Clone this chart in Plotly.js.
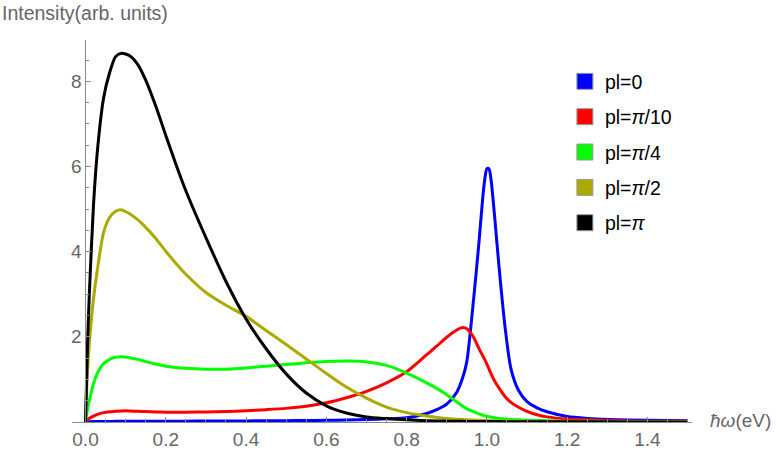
<!DOCTYPE html>
<html>
<head>
<meta charset="utf-8">
<script src="https://cdn.plot.ly/plotly-3.0.1.min.js"></script>
<style>html,body{margin:0;padding:0;background:#fff;}#chart{width:776px;height:456px;}</style>
</head>
<body>
<div id="chart"></div>
<script>
// photon energy (eV)
var energy = [0, 0.005, 0.01, 0.02, 0.03, 0.045, 0.06, 0.075, 0.09, 0.11, 0.13, 0.15, 0.175, 0.2, 0.225, 0.25,
  0.3, 0.35, 0.4, 0.45, 0.5, 0.55, 0.6, 0.65, 0.7, 0.75, 0.8, 0.85, 0.875, 0.9, 0.925, 0.94, 0.95, 0.965,
  0.98, 0.99, 0.995, 1.0, 1.005, 1.01, 1.02, 1.03, 1.045, 1.06, 1.08, 1.1, 1.125, 1.15, 1.2, 1.25, 1.3, 1.4, 1.5];

var seriesNames = ["pl=0", "pl=<i>π</i>/10", "pl=<i>π</i>/4", "pl=<i>π</i>/2", "pl=<i>π</i>"];
var seriesColors = ["#0000ff", "#ff0000", "#00ff00", "#aaaa00", "#000000"];

var pl0 = [0, 0.005, 0.008, 0.01, 0.012, 0.013, 0.014, 0.015, 0.015, 0.016, 0.016, 0.017, 0.018, 0.018, 0.019, 0.02,
  0.022, 0.024, 0.026, 0.028, 0.031, 0.035, 0.04, 0.048, 0.058, 0.075, 0.1, 0.2, 0.29, 0.42, 0.7, 1.05, 1.42, 2.7,
  4.19, 5.3, 5.72, 5.95, 5.95, 5.72, 4.75, 3.67, 2.25, 1.25, 0.72, 0.48, 0.33, 0.24, 0.13, 0.085, 0.06, 0.04, 0.03];

var plPi10 = [0, 0.05, 0.09, 0.14, 0.18, 0.22, 0.24, 0.25, 0.26, 0.26, 0.25, 0.245, 0.235, 0.23, 0.23, 0.23,
  0.235, 0.245, 0.265, 0.29, 0.32, 0.37, 0.45, 0.57, 0.72, 0.92, 1.18, 1.58, 1.78, 1.99, 2.16, 2.22, 2.19, 2.02,
  1.73, 1.55, 1.46, 1.36, 1.25, 1.14, 0.95, 0.8, 0.6, 0.46, 0.34, 0.25, 0.17, 0.12, 0.07, 0.05, 0.035, 0.02, 0.015];

var plPi4 = [0, 0.3, 0.52, 0.9, 1.15, 1.37, 1.47, 1.52, 1.53, 1.51, 1.47, 1.42, 1.36, 1.31, 1.28, 1.26,
  1.24, 1.24, 1.27, 1.31, 1.35, 1.39, 1.42, 1.43, 1.41, 1.33, 1.15, 0.92, 0.79, 0.64, 0.47, 0.37, 0.31, 0.25,
  0.19, 0.16, 0.147, 0.135, 0.125, 0.115, 0.1, 0.085, 0.07, 0.06, 0.05, 0.04, 0.035, 0.03, 0.02, 0.017, 0.014, 0.01, 0.008];

var plPi2 = [0, 1.2, 1.9, 2.9, 3.6, 4.45, 4.8, 4.95, 4.98, 4.89, 4.75, 4.57, 4.31, 4.01, 3.73, 3.47,
  3.04, 2.74, 2.48, 2.15, 1.82, 1.48, 1.14, 0.82, 0.56, 0.35, 0.22, 0.14, 0.11, 0.08, 0.065, 0.058, 0.052, 0.046,
  0.04, 0.037, 0.035, 0.034, 0.033, 0.031, 0.028, 0.026, 0.023, 0.02, 0.018, 0.016, 0.014, 0.012, 0.01, 0.008, 0.007, 0.005, 0.004];

var plPi = [0, 1.8, 3.1, 5.1, 6.4, 7.6, 8.2, 8.58, 8.66, 8.6, 8.4, 8.03, 7.42, 6.73, 6.06, 5.43,
  4.33, 3.3, 2.42, 1.72, 1.13, 0.68, 0.38, 0.21, 0.12, 0.08, 0.05, 0.03, 0.025, 0.02, 0.017, 0.015, 0.014, 0.013,
  0.012, 0.011, 0.01, 0.01, 0.01, 0.01, 0.009, 0.009, 0.008, 0.008, 0.007, 0.006, 0.006, 0.005, 0.004, 0.003, 0.003, 0.002, 0.002];

var xTickVals = [0, 0.2, 0.4, 0.6, 0.8, 1.0, 1.2, 1.4];
var xTickText = ["0.0", "0.2", "0.4", "0.6", "0.8", "1.0", "1.2", "1.4"];
var yTickVals = [0, 2, 4, 6, 8];
var yTickText = ["", "2", "4", "6", "8"];

var allSeries = [pl0, plPi10, plPi4, plPi2, plPi];
var traces = [];
allSeries.forEach(function (vals, i) {
  traces.push({
    x: energy, y: vals, type: "scatter", mode: "lines",
    line: {color: seriesColors[i], width: 3, shape: "spline", smoothing: 0.7},
    showlegend: false, hoverinfo: "skip"
  });
});
allSeries.forEach(function (vals, i) {
  traces.push({
    x: [null], y: [null], type: "scatter", mode: "markers", name: seriesNames[i],
    legendgroup: "g" + i,
    marker: {symbol: "square", size: 16, color: seriesColors[i], line: {color: "#999999", width: 1}}
  });
});

var axisGray = "#8a8a8a";
var labelGray = "#666666";
var fontFam = "Liberation Sans, Arial, Helvetica, sans-serif";
var xmin = -0.0336, xmax = 1.511;

var layout = {
  width: 776, height: 456,
  margin: {l: 72, r: 84, t: 40, b: 34},
  paper_bgcolor: "#ffffff", plot_bgcolor: "#ffffff",
  font: {family: fontFam, size: 19, color: labelGray},
  showlegend: true,
  legend: {
    x: 0.795, y: 0.942, xanchor: "left", yanchor: "top",
    font: {family: fontFam, size: 19.5, color: "#000000"},
    traceorder: "grouped", tracegroupgap: 7, bgcolor: "rgba(0,0,0,0)"
  },
  xaxis: {
    range: [xmin, xmax], showgrid: false, zeroline: false,
    showline: true, linecolor: axisGray, linewidth: 1,
    tickmode: "array", tickvals: xTickVals, ticktext: xTickText,
    ticks: "inside", ticklen: 5, tickcolor: axisGray, tickwidth: 1,
    tickfont: {family: fontFam, size: 19, color: labelGray},
    minor: {dtick: 0.05, tick0: 0, ticks: "inside", ticklen: 3, tickcolor: axisGray, showgrid: false},
    fixedrange: true
  },
  yaxis: {
    range: [0, 8.97], showgrid: false, zeroline: false,
    anchor: "free", position: (0 - xmin) / (xmax - xmin),
    showline: true, linecolor: axisGray, linewidth: 1,
    tickmode: "array", tickvals: yTickVals, ticktext: yTickText,
    ticks: "inside", ticklen: 5, tickcolor: axisGray, tickwidth: 1,
    tickfont: {family: fontFam, size: 19, color: labelGray},
    minor: {dtick: 0.5, tick0: 0, ticks: "inside", ticklen: 3, tickcolor: axisGray, showgrid: false},
    fixedrange: true
  },
  annotations: [
    {text: "Intensity(arb. units)", xref: "paper", yref: "paper", x: -72 / 620, y: 1 + 27 / 382,
     xanchor: "left", yanchor: "middle", showarrow: false,
     font: {family: fontFam, size: 19.5, color: labelGray}},
    {text: "<i>ħω</i>(eV)", xref: "paper", yref: "paper", x: 1.025, y: 0.005,
     xanchor: "left", yanchor: "middle", showarrow: false,
     font: {family: fontFam, size: 19, color: labelGray}}
  ]
};

Plotly.newPlot("chart", traces, layout, {staticPlot: true, displayModeBar: false});
</script>
</body>
</html>
